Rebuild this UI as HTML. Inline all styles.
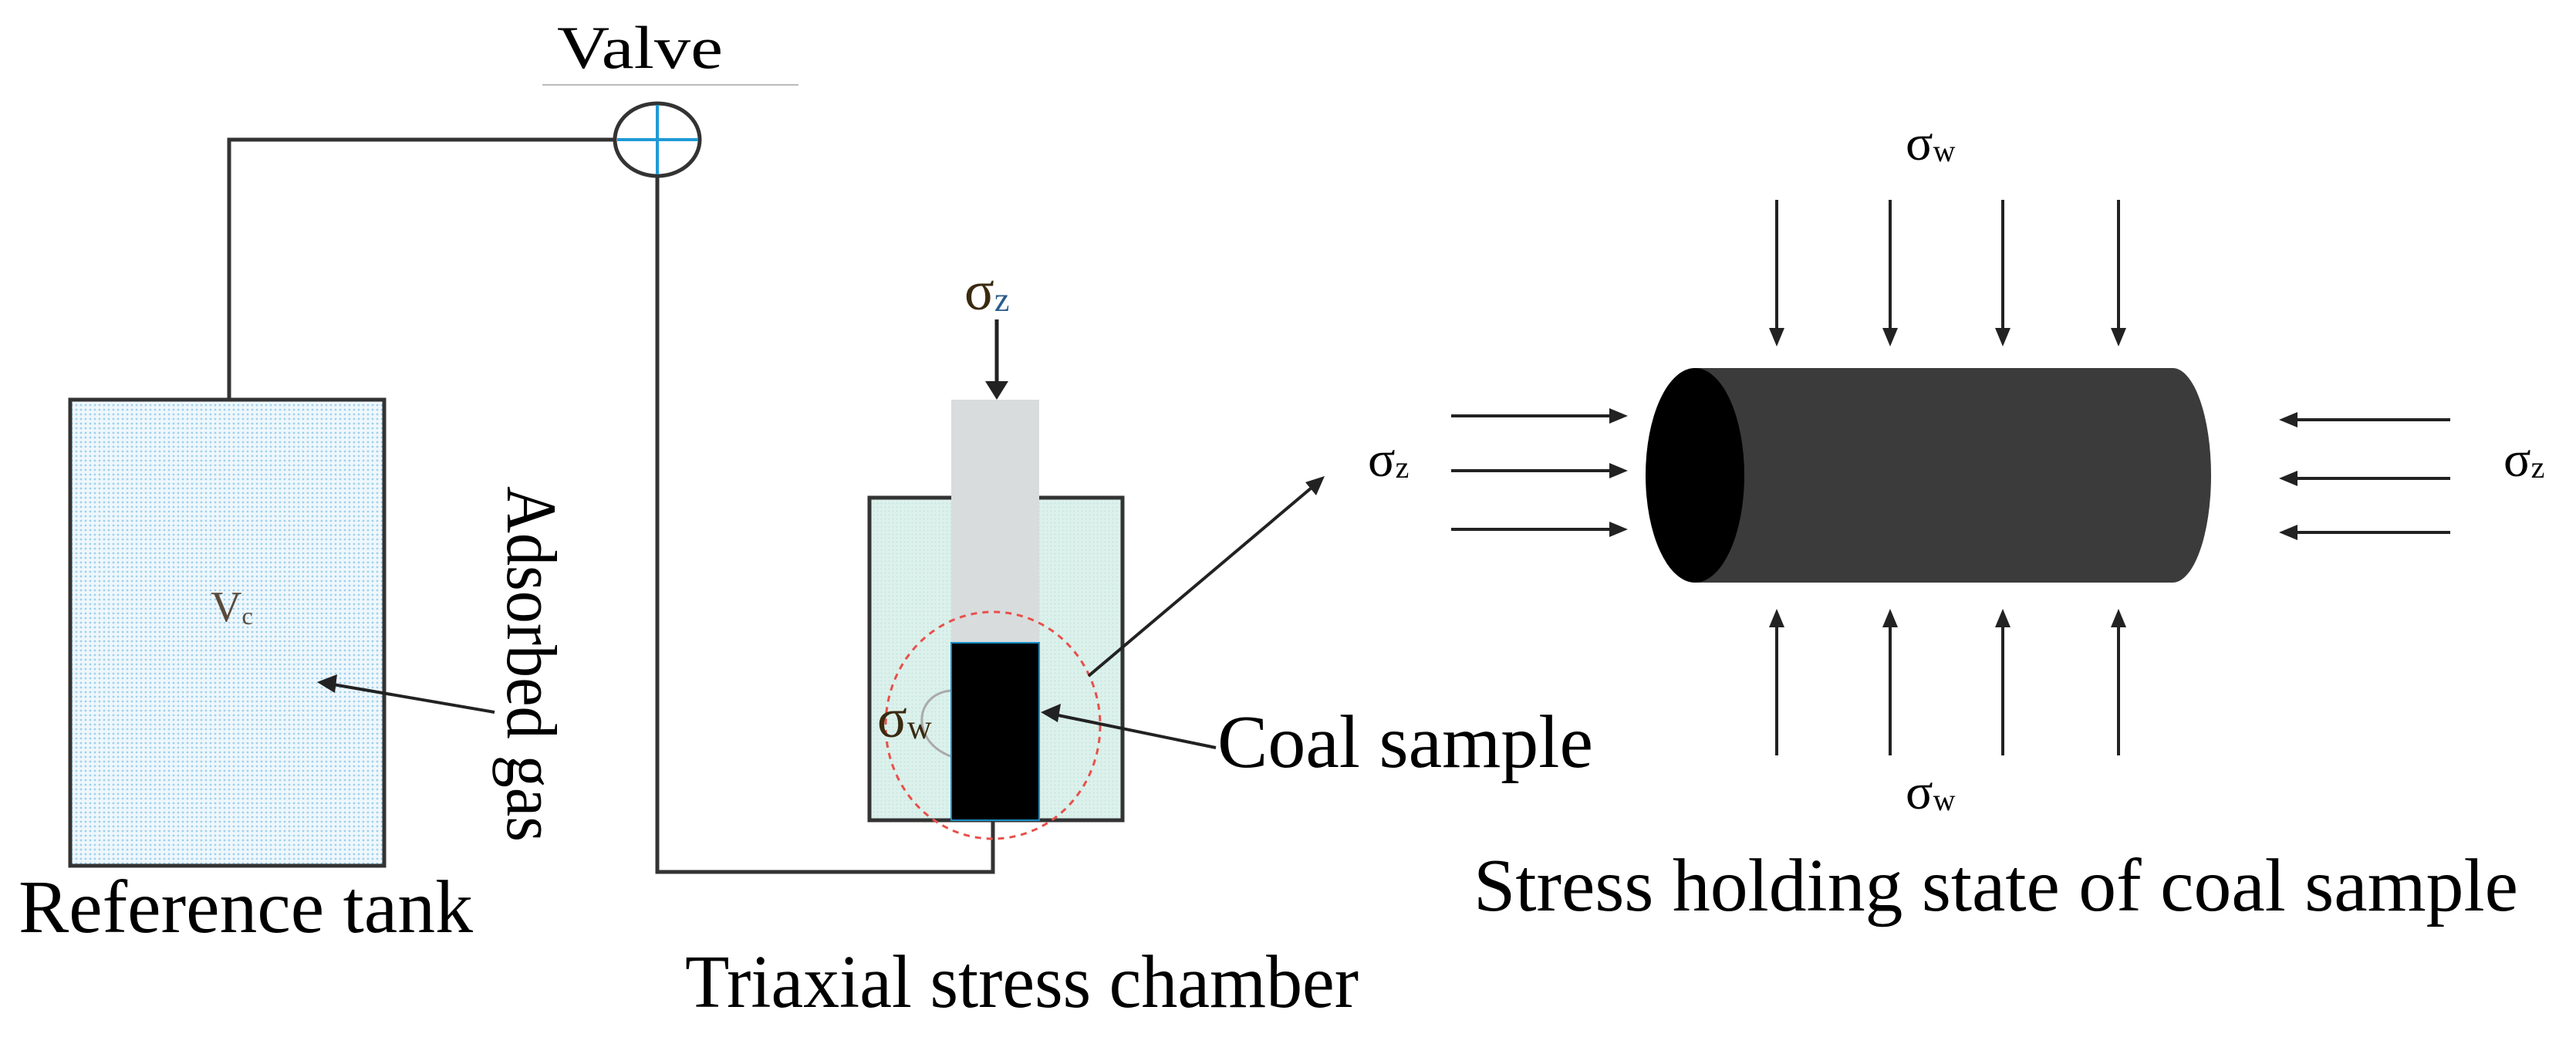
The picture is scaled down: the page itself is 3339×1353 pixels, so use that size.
<!DOCTYPE html>
<html><head><meta charset="utf-8"><style>
html,body{margin:0;padding:0;background:#fff;}
svg{display:block;}
text{font-family:"Liberation Serif",serif;fill:#000;}
</style></head><body>
<svg width="3339" height="1353" viewBox="0 0 3339 1353" xmlns="http://www.w3.org/2000/svg">
<defs>
<pattern id="dots" width="6" height="6" patternUnits="userSpaceOnUse">
<rect width="6" height="6" fill="#eef7fc"/><circle cx="3" cy="3" r="1.4" fill="#9fd0ec"/>
</pattern>
<pattern id="mint" width="5" height="5" patternUnits="userSpaceOnUse">
<rect width="5" height="5" fill="#dcf1ec"/><circle cx="2.5" cy="2.5" r="1" fill="#c3e5dc"/>
</pattern>
</defs>

<!-- Valve -->
<text x="722" y="88" font-size="78" textLength="215" lengthAdjust="spacingAndGlyphs">Valve</text>
<line x1="703" y1="110" x2="1035" y2="110" stroke="#bbb" stroke-width="2"/>

<!-- pipes -->
<polyline points="297,518 297,181 797,181" fill="none" stroke="#333" stroke-width="5"/>
<polyline points="852,228 852,1130 1287,1130 1287,1063" fill="none" stroke="#333" stroke-width="5"/>
<ellipse cx="852" cy="181" rx="55" ry="47" fill="#fff" stroke="#333" stroke-width="5"/>
<line x1="800" y1="181" x2="905" y2="181" stroke="#1e9ad6" stroke-width="4"/>
<line x1="852" y1="136" x2="852" y2="226" stroke="#1e9ad6" stroke-width="4"/>

<!-- Reference tank -->
<rect x="91" y="518" width="407" height="604" fill="url(#dots)" stroke="#333" stroke-width="5"/>
<text x="273" y="805" font-size="56" style="fill:#5a4a3a">V<tspan font-size="32" dy="4">c</tspan></text>
<line x1="641" y1="923" x2="420" y2="885" stroke="#222" stroke-width="4"/>
<polygon points="411,884 437,874 434,898" fill="#222"/>
<text transform="translate(658,630) rotate(90)" font-size="92" textLength="461" lengthAdjust="spacingAndGlyphs">Adsorbed gas</text>
<text x="24" y="1208" font-size="98" textLength="589" lengthAdjust="spacingAndGlyphs">Reference tank</text>

<!-- Triaxial chamber -->
<rect x="1127" y="645" width="328" height="418" fill="url(#mint)" stroke="#333" stroke-width="5"/>
<rect x="1233" y="518" width="114" height="315" fill="#d8dcdd"/>
<rect x="1233" y="833" width="114" height="230" fill="#000" stroke="#1a8fc8" stroke-width="2"/>
<line x1="1292" y1="414" x2="1292" y2="500" stroke="#222" stroke-width="5"/>
<polygon points="1277,494 1307,494 1292,518" fill="#222"/>
<text x="1250" y="401" font-size="72" style="fill:#3a2a10">σ<tspan font-size="44" dy="2" style="fill:#2a5a8a">z</tspan></text>
<ellipse cx="1287" cy="940" rx="139" ry="147" fill="none" stroke="#e8504a" stroke-width="3" stroke-dasharray="8,7"/>
<path d="M1232,895 C1185,900 1180,960 1232,980" fill="none" stroke="#aaa" stroke-width="3"/>
<text x="1137" y="955" font-size="72" style="fill:#3a2a10">σ<tspan font-size="44" dy="2">w</tspan></text>
<line x1="1576" y1="969" x2="1362" y2="925" stroke="#222" stroke-width="4"/>
<polygon points="1349,923 1375,912 1371,936" fill="#222"/>
<text x="1578" y="994" font-size="98" textLength="487" lengthAdjust="spacingAndGlyphs">Coal sample</text>
<line x1="1411" y1="876" x2="1706" y2="627" stroke="#222" stroke-width="4"/>
<polygon points="1717,617 1706,642 1692,625" fill="#222"/>
<text x="888" y="1305" font-size="98" textLength="873" lengthAdjust="spacingAndGlyphs">Triaxial stress chamber</text>

<!-- Cylinder -->
<path d="M2197,477 L2816,477 A50,139 0 0 1 2816,755 L2197,755 Z" fill="#3b3b3b"/>
<ellipse cx="2197" cy="616" rx="64" ry="139" fill="#000"/>

<text x="2470" y="207" font-size="66">σ<tspan font-size="40" dy="2">w</tspan></text>
<g stroke="#222" stroke-width="4">
<line x1="2303" y1="259" x2="2303" y2="430"/><line x1="2450" y1="259" x2="2450" y2="430"/>
<line x1="2596" y1="259" x2="2596" y2="430"/><line x1="2746" y1="259" x2="2746" y2="430"/>
<line x1="2303" y1="808" x2="2303" y2="979"/><line x1="2450" y1="808" x2="2450" y2="979"/>
<line x1="2596" y1="808" x2="2596" y2="979"/><line x1="2746" y1="808" x2="2746" y2="979"/>
<line x1="1881" y1="539" x2="2090" y2="539"/><line x1="1881" y1="610" x2="2090" y2="610"/><line x1="1881" y1="686" x2="2090" y2="686"/>
<line x1="2974" y1="544" x2="3176" y2="544"/><line x1="2974" y1="620" x2="3176" y2="620"/><line x1="2974" y1="690" x2="3176" y2="690"/>
</g>
<g fill="#222">
<polygon points="2293,425 2313,425 2303,449"/><polygon points="2440,425 2460,425 2450,449"/>
<polygon points="2586,425 2606,425 2596,449"/><polygon points="2736,425 2756,425 2746,449"/>
<polygon points="2293,813 2313,813 2303,789"/><polygon points="2440,813 2460,813 2450,789"/>
<polygon points="2586,813 2606,813 2596,789"/><polygon points="2736,813 2756,813 2746,789"/>
<polygon points="2086,529 2086,549 2110,539"/><polygon points="2086,600 2086,620 2110,610"/><polygon points="2086,676 2086,696 2110,686"/>
<polygon points="2978,534 2978,554 2954,544"/><polygon points="2978,610 2978,630 2954,620"/><polygon points="2978,680 2978,700 2954,690"/>
</g>
<text x="1773" y="617" font-size="66">σ<tspan font-size="40" dy="2">z</tspan></text>
<text x="3245" y="617" font-size="66">σ<tspan font-size="40" dy="2">z</tspan></text>
<text x="2470" y="1048" font-size="66">σ<tspan font-size="40" dy="2">w</tspan></text>
<text x="1910" y="1180" font-size="98" textLength="1354" lengthAdjust="spacingAndGlyphs">Stress holding state of coal sample</text>
</svg>
</body></html>
